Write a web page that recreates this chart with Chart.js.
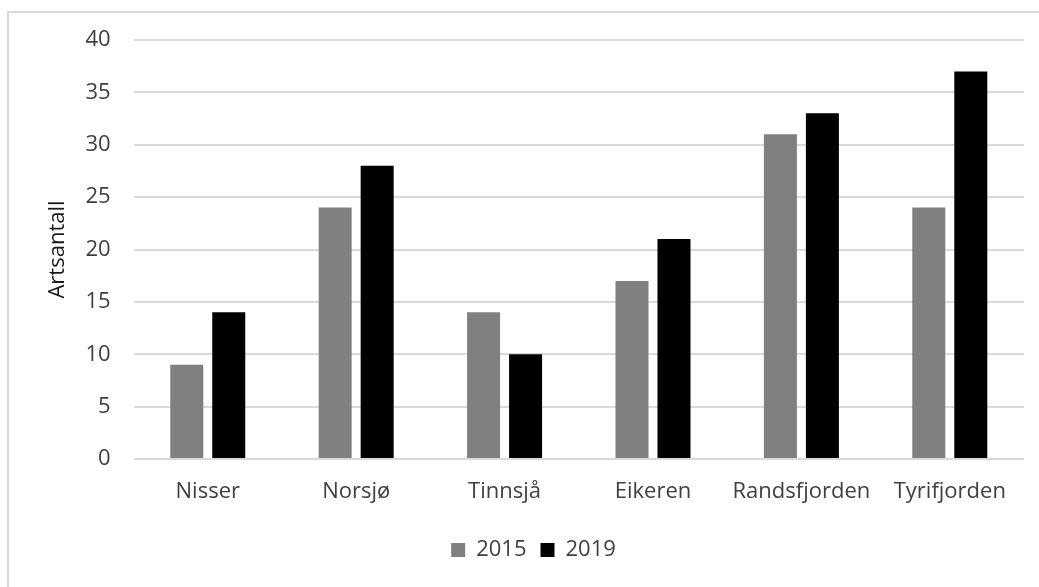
<!DOCTYPE html>
<html>
<head>
<meta charset="utf-8">
<script src="https://cdn.jsdelivr.net/npm/chart.js@4/dist/chart.umd.min.js"></script>
<style>
  body { margin: 0; background: #fff; }
  #wrap { position: relative; width: 1039px; height: 587px; overflow: hidden; }
  #frame { position: absolute; left: 7px; top: 11px; width: 1100px; height: 600px;
           border-left: 2px solid #d9d9d9; border-top: 2px solid #d9d9d9; }
  canvas { position: absolute; left: 0; top: 0; }
</style>
</head>
<body>
<div id="wrap">
  <div id="frame"></div>
  <canvas id="artChart" width="1039" height="587"></canvas>
</div>
<script>
const lakes = ["Nisser", "Norsjø", "Tinnsjå", "Eikeren", "Randsfjorden", "Tyrifjorden"];
const counts2015 = [9, 24, 14, 17, 31, 24];
const counts2019 = [14, 28, 10, 21, 33, 37];
const yTicks = [0, 5, 10, 15, 20, 25, 30, 35, 40];

const font = { family: "'Open Sans', sans-serif", size: 22 };
const textColor = "#404040";

const ctx = document.getElementById("artChart").getContext("2d");

window.artChart = new Chart(ctx, {
    type: "bar",
    data: {
        labels: lakes,
        datasets: [
            { label: "2015", data: counts2015, backgroundColor: "#808080" },
            { label: "2019", data: counts2019, backgroundColor: "#000000" }
        ]
    },
    options: {
        responsive: false,
        animation: false,
        categoryPercentage: 0.566,
        barPercentage: 0.786,
        layout: { padding: { left: 43, right: 15, top: 40, bottom: 16 } },
        plugins: {
            legend: {
                position: "bottom",
                labels: { boxWidth: 14, boxHeight: 14, padding: 14, color: textColor, font: font }
            },
            tooltip: { enabled: false }
        },
        scales: {
            x: {
                grid: { display: false },
                border: { display: false },
                ticks: { color: textColor, font: font, padding: 12 },
                afterFit: scale => { scale.height = 66; }
            },
            y: {
                min: 0,
                max: 40,
                afterBuildTicks: axis => { axis.ticks = yTicks.map(v => ({ value: v })); },
                grid: { color: "#d9d9d9", lineWidth: 2, drawTicks: false },
                border: { display: false },
                ticks: { color: textColor, font: font, padding: 23 },
                // pull the title in towards the tick labels
                title: { display: true, text: "Artsantall", color: "#1a1a1a", font: { family: font.family, size: 22 }, padding: { top: 2, bottom: -9 } }
            }
        }
    }
});
</script>
</body>
</html>
